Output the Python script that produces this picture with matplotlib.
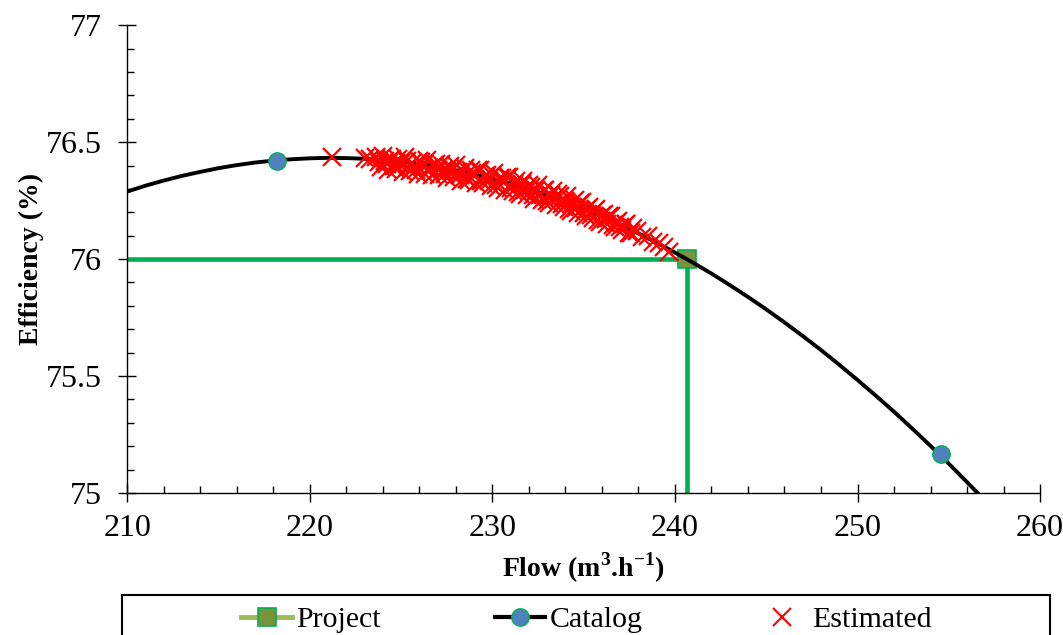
import matplotlib
matplotlib.use("Agg")
import matplotlib.pyplot as plt
from matplotlib.lines import Line2D
from matplotlib.patches import Rectangle
from matplotlib.ticker import MultipleLocator

plt.rcParams['font.family'] = 'Liberation Serif'
plt.rcParams['mathtext.fontset'] = 'custom'
plt.rcParams['mathtext.rm'] = 'Liberation Serif'
plt.rcParams['mathtext.bf'] = 'Liberation Serif:bold'

# Catalog curve (every 1 m3/h)
curve_flow = list(range(210, 258))
curve_eff = [76.289, 76.314, 76.336, 76.356, 76.373, 76.389, 76.402, 76.413,
             76.421, 76.427, 76.431, 76.433, 76.432, 76.429, 76.424, 76.417,
             76.407, 76.395, 76.380, 76.363, 76.344, 76.323, 76.300, 76.274,
             76.246, 76.215, 76.182, 76.147, 76.110, 76.070, 76.028, 75.984,
             75.938, 75.889, 75.838, 75.785, 75.729, 75.671, 75.611, 75.548,
             75.483, 75.416, 75.347, 75.275, 75.201, 75.125, 75.046, 74.966]

# Catalog points visible in the window
catalog_flow = [218.2, 254.55]
catalog_eff = [76.421, 75.165]

# Project operating point
project_flow = [240.65]
project_eff = [76.0]

# Estimated points
est_flow = [221.2, 223.0, 223.3,
            223.6, 223.8, 224.0, 224.2, 224.4, 224.6, 224.8, 225.0, 225.2, 225.4,
            225.6, 225.8, 226.0, 226.2, 226.4, 226.6, 226.8, 227.0, 227.2, 227.4,
            227.6, 227.8, 228.0, 228.2, 228.4, 228.6, 228.8, 229.0, 229.2, 229.4,
            229.6, 229.8, 230.0, 230.2, 230.4, 230.6, 230.8, 231.0, 231.2, 231.4,
            231.6, 231.8, 232.0, 232.2, 232.4, 232.6, 232.8, 233.0, 233.2, 233.4,
            233.6, 233.8, 234.0, 234.2, 234.4, 234.6, 234.8, 235.0, 235.2, 235.4,
            235.6, 235.8, 236.0, 236.2, 236.4, 236.6, 236.8, 237.0, 237.3, 237.6,
            237.9, 238.2, 238.5, 238.8, 239.1, 239.4, 239.7,
            223.9, 224.1, 224.3, 224.5, 224.7, 224.9, 225.1, 225.3, 225.5, 225.7,
            225.9, 226.1, 226.3, 226.5, 226.7, 226.9, 227.1, 227.3, 227.5, 227.7,
            227.9, 228.1, 228.3, 228.5, 228.7, 228.9, 229.1, 229.3, 229.5, 229.7,
            229.9, 230.1, 230.3, 230.5, 230.7, 230.9, 231.1, 231.3, 231.5, 231.7,
            231.9, 232.1, 232.3, 232.5, 232.7, 232.9, 233.1, 233.3, 233.5, 233.7,
            233.9, 234.1, 234.3, 234.5, 234.7, 234.9, 235.1, 235.3, 235.5, 235.7,
            235.9, 236.1, 236.3, 236.5, 236.7, 236.9, 237.1, 237.3, 237.5, 237.7]
est_eff = [76.436, 76.432, 76.430,
           76.436, 76.417, 76.439, 76.408, 76.425, 76.398, 76.430, 76.412, 76.435, 76.395,
           76.413, 76.381, 76.421, 76.396, 76.422, 76.380, 76.403, 76.382, 76.408, 76.363,
           76.394, 76.379, 76.402, 76.361, 76.377, 76.341, 76.379, 76.355, 76.379, 76.336,
           76.357, 76.335, 76.360, 76.315, 76.345, 76.328, 76.349, 76.306, 76.321, 76.287,
           76.322, 76.295, 76.318, 76.275, 76.295, 76.272, 76.294, 76.250, 76.276, 76.258,
           76.277, 76.235, 76.249, 76.214, 76.246, 76.220, 76.238, 76.197, 76.214, 76.190,
           76.210, 76.167, 76.189, 76.171, 76.185, 76.146, 76.158, 76.137, 76.148, 76.111,
           76.120, 76.094, 76.098, 76.072, 76.070, 76.050, 76.031,
           76.395, 76.418, 76.382, 76.428, 76.385, 76.405, 76.374, 76.420, 76.376, 76.395,
           76.364, 76.416, 76.365, 76.389, 76.358, 76.408, 76.359, 76.380, 76.345, 76.399,
           76.352, 76.371, 76.335, 76.388, 76.337, 76.369, 76.324, 76.382, 76.324, 76.360,
           76.311, 76.368, 76.306, 76.348, 76.294, 76.353, 76.291, 76.332, 76.278, 76.333,
           76.272, 76.309, 76.258, 76.315, 76.252, 76.296, 76.239, 76.292, 76.230, 76.270,
           76.221, 76.269, 76.207, 76.251, 76.198, 76.242, 76.184, 76.223, 76.175, 76.214,
           76.160, 76.193, 76.152, 76.183, 76.136, 76.163, 76.126, 76.152, 76.113, 76.132]

green = '#00B050'
fig = plt.figure(figsize=(10.63, 6.35), dpi=100)
ax = fig.add_axes([0.1198, 0.2238, 0.8586, 0.7364])

# guide lines to the project point
ax.plot([210, project_flow[0]], [project_eff[0], project_eff[0]], color=green, lw=3.3, zorder=2)
ax.plot([project_flow[0], project_flow[0]], [project_eff[0], 75], color=green, lw=3.3, zorder=2)

ax.plot(project_flow, project_eff, color='#9BBB59', lw=3.5, marker='s', ms=13,
        mfc='#77933C', mec=green, mew=1.2, zorder=3)
ax.plot(curve_flow, curve_eff, color='black', lw=2.8, zorder=4)
ax.plot(est_flow, est_eff, ls='none', marker='x', ms=13, mew=1.6, color='red', zorder=5)
ax.plot(catalog_flow, catalog_eff, ls='none', marker='o', ms=12.5, mfc='#4F81BD',
        mec=green, mew=1.0, zorder=6)

ax.set_xlim(210, 260)
ax.set_ylim(75, 77)
ax.xaxis.set_major_locator(MultipleLocator(10))
ax.xaxis.set_minor_locator(MultipleLocator(2))
ax.yaxis.set_major_locator(MultipleLocator(0.5))
ax.yaxis.set_minor_locator(MultipleLocator(0.1))
ax.yaxis.set_major_formatter(plt.FuncFormatter(lambda v, p: f'{v:g}'))
ax.tick_params(which='major', direction='inout', length=13, width=1, labelsize=23)
ax.tick_params(which='minor', direction='in', length=5, width=1)
ax.tick_params(axis='x', which='major', pad=9)
ax.tick_params(axis='y', which='major', pad=12)
for s in ['top', 'right']:
    ax.spines[s].set_visible(False)
for s in ['left', 'bottom']:
    ax.spines[s].set_linewidth(1)

ax.set_xlabel(r'Flow (m$^{\mathbf{3}}$.h$^{\mathbf{-1}}$)', fontsize=20, fontweight='bold', labelpad=5)
ax.set_ylabel('Efficiency (%)', fontsize=20, fontweight='bold', labelpad=1.5)

handles = [
    Line2D([], [], color='#9BBB59', lw=3.5, marker='s', ms=13, mfc='#77933C', mec=green, mew=1.2),
    Line2D([], [], color='black', lw=3, marker='o', ms=12.5, mfc='#4F81BD', mec=green, mew=1.0),
    Line2D([], [], ls='none', marker='x', ms=13, mew=1.5, color='red'),
]
fig.legend(handles, ['Project', 'Catalog', 'Estimated'], loc='center',
           bbox_to_anchor=(0.5515, 0.024), ncol=3, frameon=False, fontsize=21.5,
           handlelength=1.7, handletextpad=0.15, columnspacing=3.8, borderpad=0)
fig.add_artist(Rectangle((0.1148, -0.05), 0.8730, 0.113, transform=fig.transFigure,
                         fill=False, lw=1.5, edgecolor='black', clip_on=False))

fig.savefig('out.png', dpi=100)
